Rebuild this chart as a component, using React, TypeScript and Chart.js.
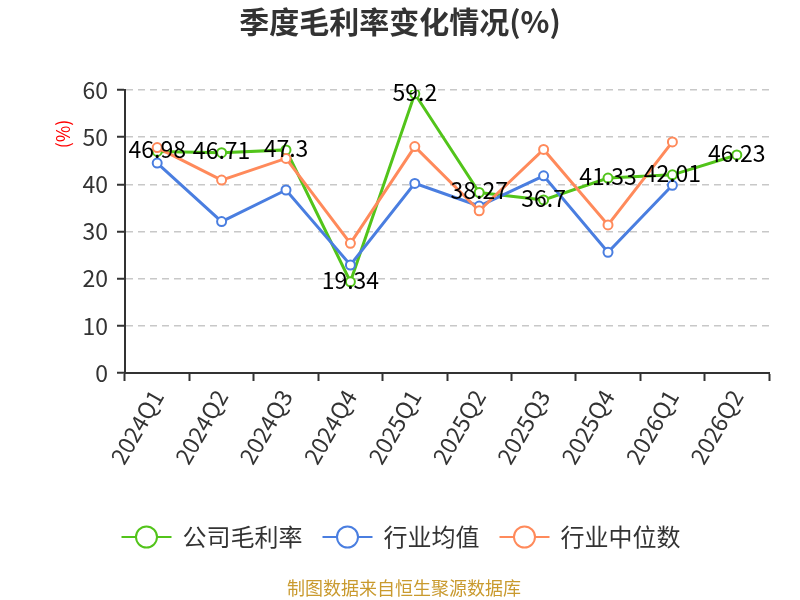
import { useEffect, useRef } from 'react';
import { Chart, registerables, Plugin } from 'chart.js';

Chart.register(...registerables);

const quarters = ['2024Q1', '2024Q2', '2024Q3', '2024Q4', '2025Q1', '2025Q2', '2025Q3', '2025Q4', '2026Q1', '2026Q2'];
const companyMargin = [46.98, 46.71, 47.3, 19.34, 59.2, 38.27, 36.7, 41.33, 42.01, 46.23];
const industryMean = [44.5, 32.1, 38.8, 22.9, 40.2, 35.4, 41.8, 25.6, 39.8, null];
const industryMedian = [47.8, 40.9, 45.5, 27.5, 48.0, 34.4, 47.4, 31.4, 49.0, null];
const seriesNames = ['公司毛利率', '行业均值', '行业中位数'];
const seriesColors = ['#52c41a', '#4a7ee0', '#ff8a5b'];
const yTicks = [0, 10, 20, 30, 40, 50, 60];

const FONT = '"Noto Sans CJK SC", "Noto Sans", sans-serif';

// titel, as-label, legenda, bron en datalabels zelf tekenen
const decorations: Plugin<'line'> = {
  id: 'decorations',
  afterDatasetsDraw(chart) {
    const { ctx } = chart;
    ctx.save();

    // datalabels voor de bedrijfslijn
    const meta = chart.getDatasetMeta(0);
    ctx.font = `23px ${FONT}`;
    ctx.fillStyle = '#000';
    ctx.textAlign = 'center';
    ctx.textBaseline = 'middle';
    meta.data.forEach((pt, i) => {
      ctx.fillText(String(companyMargin[i]), pt.x, pt.y - 2);
    });

    // titel
    ctx.font = `bold 30px ${FONT}`;
    ctx.fillStyle = '#333';
    ctx.fillText('季度毛利率变化情况(%)', 400, 22);

    // eenheid y-as
    ctx.save();
    ctx.translate(63, 134);
    ctx.rotate(-Math.PI / 2);
    ctx.font = `18px ${FONT}`;
    ctx.fillStyle = '#ff0000';
    ctx.fillText('(%)', 0, 0);
    ctx.restore();

    // legenda
    ctx.font = `24px ${FONT}`;
    const gap = 20;
    const markerW = 50;
    const widths = seriesNames.map((n) => markerW + 11 + ctx.measureText(n).width);
    const total = widths.reduce((a, b) => a + b, 0) + gap * (seriesNames.length - 1);
    let x = 401 - total / 2;
    const ly = 537;
    seriesNames.forEach((name, i) => {
      ctx.strokeStyle = seriesColors[i];
      ctx.lineWidth = 2;
      ctx.beginPath();
      ctx.moveTo(x, ly);
      ctx.lineTo(x + markerW, ly);
      ctx.stroke();
      ctx.beginPath();
      ctx.arc(x + markerW / 2, ly, 10.5, 0, Math.PI * 2);
      ctx.fillStyle = '#fff';
      ctx.fill();
      ctx.stroke();
      ctx.fillStyle = '#333';
      ctx.textAlign = 'left';
      ctx.fillText(name, x + markerW + 11, ly);
      x += widths[i] + gap;
    });

    // bron
    ctx.textAlign = 'center';
    ctx.font = `18px ${FONT}`;
    ctx.fillStyle = '#c99a2e';
    ctx.fillText('制图数据来自恒生聚源数据库', 404, 588);

    ctx.restore();
  },
};

export default function App() {
  const chartRef = useRef<HTMLCanvasElement>(null);
  const chartInstance = useRef<Chart | null>(null);

  useEffect(() => {
    if (!chartRef.current) return;
    if (chartInstance.current) chartInstance.current.destroy();

    const datasets = [companyMargin, industryMean, industryMedian].map((data, i) => ({
      label: seriesNames[i],
      data,
      borderColor: seriesColors[i],
      backgroundColor: '#fff',
      pointBackgroundColor: '#fff',
      pointBorderColor: seriesColors[i],
      borderWidth: 3,
      pointRadius: 4.5,
      pointBorderWidth: 2,
      tension: 0,
      order: 2 - i,
    }));

    chartInstance.current = new Chart(chartRef.current, {
      type: 'line',
      data: { labels: quarters, datasets },
      options: {
        animation: false,
        responsive: false,
        devicePixelRatio: 1,
        layout: { padding: { left: 0, top: 90, right: 31, bottom: 0 } },
        plugins: {
          legend: { display: false },
          title: { display: false },
          tooltip: { enabled: false },
        },
        scales: {
          x: {
            offset: true,
            afterFit: (scale) => { scale.height = 227; },
            grid: {
              offset: true,
              drawOnChartArea: false,
              tickColor: '#333',
              tickLength: 8,
              tickWidth: 2,
            },
            border: { color: '#333', width: 2 },
            ticks: {
              font: { family: FONT, size: 23 },
              color: '#333',
              maxRotation: 60,
              minRotation: 60,
              padding: 4,
            },
          },
          y: {
            min: 0,
            max: 60,
            afterFit: (scale) => { scale.width = 125; },
            afterBuildTicks: (scale) => {
              scale.ticks = yTicks.map((v) => ({ value: v }));
            },
            grid: {
              color: '#c8c8c8',
              lineWidth: 1.5,
              tickColor: '#333',
              tickLength: 8,
              tickWidth: 2,
            },
            border: { color: '#333', width: 2, dash: [7, 5] },
            ticks: {
              font: { family: FONT, size: 23 },
              color: '#333',
              padding: 9,
            },
          },
        },
      },
      plugins: [decorations],
    });

    return () => {
      if (chartInstance.current) {
        chartInstance.current.destroy();
        chartInstance.current = null;
      }
    };
  }, []);

  return (
    <div style={{ position: 'fixed', left: 0, top: 0, width: 800, height: 600, background: '#fff' }}>
      <canvas ref={chartRef} width={800} height={600} style={{ width: 800, height: 600 }} />
    </div>
  );
}
